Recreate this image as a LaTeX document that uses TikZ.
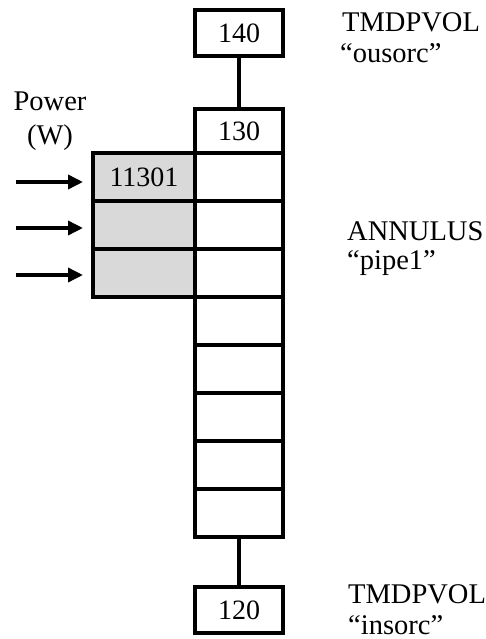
\documentclass[tikz,border=0pt]{standalone}
\usepackage{fontspec}
\setmainfont{Liberation Serif}
\usetikzlibrary{arrows.meta}
\definecolor{cellgray}{RGB}{217,217,217}
\begin{document}
\begin{tikzpicture}[x=1pt,y=-1pt,
  box/.style={draw, line width=4pt, rectangle, minimum width=88pt, minimum height=46pt, inner sep=0pt, font=\fontsize{28}{32}\selectfont},
  cellbox/.style={draw, line width=4pt, rectangle, minimum width=88pt, minimum height=48pt, inner sep=0pt, font=\fontsize{28}{32}\selectfont},
  graycell/.style={cellbox, fill=cellgray, minimum width=102pt},
  txt/.style={font=\fontsize{28.5}{32}\selectfont, anchor=base west, inner sep=0pt},
  ctxt/.style={font=\fontsize{28.5}{32}\selectfont, anchor=base, inner sep=0pt},
  link/.style={line width=4pt},
  powerarrow/.style={line width=3.5pt, -{Triangle[length=15pt,width=14pt]}, shorten >=8pt}]
\useasboundingbox (0,0) rectangle (486,639);

% gray heat structure cells
\node[graycell] (g1) at (144,177) {11301};
\node[graycell] (g2) at (144,225) {};
\node[graycell] (g3) at (144,273) {};

% pipe cells
\node[cellbox] (c1) at (239,177) {};
\node[cellbox] (c2) at (239,225) {};
\node[cellbox] (c3) at (239,273) {};
\node[cellbox] (c4) at (239,321) {};
\node[cellbox] (c5) at (239,369) {};
\node[cellbox] (c6) at (239,417) {};
\node[cellbox] (c7) at (239,465) {};
\node[cellbox] (c8) at (239,513) {};

% volumes
\node[box] (b140) at (239,33) {140};
\node[box, minimum height=44pt] (b130) at (239,131) {130};
\node[box] (b120) at (239,610) {120};

% connectors
\draw[link] (b140.south) -- (b130.north);
\draw[link] (c8.south) -- (b120.north);

% power arrows
\coordinate (a1) at (16,182);
\coordinate (a2) at (16,228);
\coordinate (a3) at (16,275);
\draw[powerarrow] (a1) -- (g1.west |- a1);
\draw[powerarrow] (a2) -- (g2.west |- a2);
\draw[powerarrow] (a3) -- (g3.west |- a3);

% labels
\node[ctxt] (pw1) at (50,111) {Power};
\node[ctxt] (pw2) at (50,145) {(W)};
\node[txt] (t140a) at (342,32) {TMDPVOL};
\node[txt] (t140b) at (340,63) {“ousorc”};
\node[txt] (tpa) at (347,240) {ANNULUS};
\node[txt] (tpb) at (347,269) {“pipe1”};
\node[txt] (t120a) at (348,603) {TMDPVOL};
\node[txt] (t120b) at (348,634) {“insorc”};
\end{tikzpicture}
\end{document}
